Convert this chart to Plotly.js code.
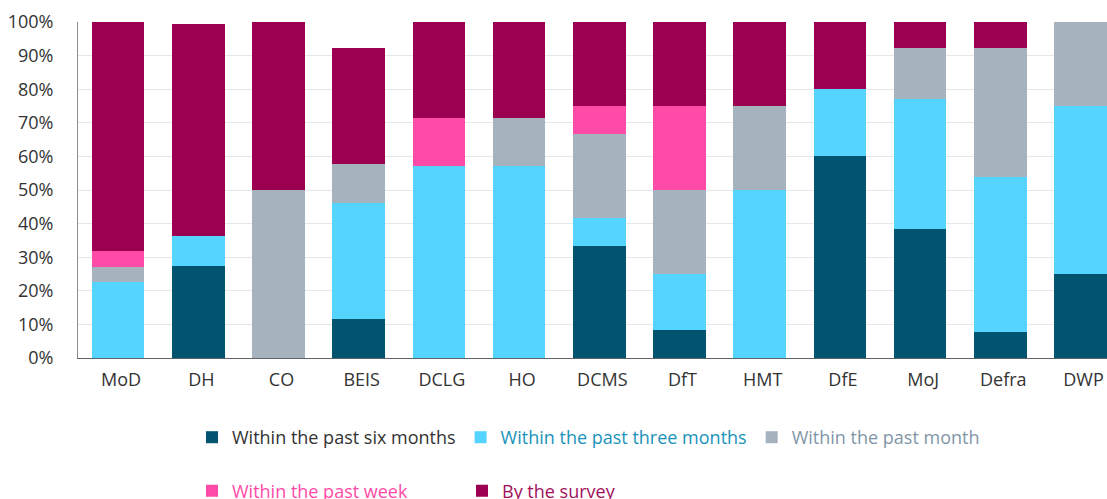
<!DOCTYPE html>
<html>
<head>
<meta charset="utf-8">
<script src="https://cdn.plot.ly/plotly-3.0.1.min.js"></script>
<style>
  html, body { margin: 0; padding: 0; background: #fff; }
  #chart { width: 1107px; height: 499px; }
</style>
</head>
<body>
<div id="chart"></div>
<script>
var categories = ['MoD', 'DH', 'CO', 'BEIS', 'DCLG', 'HO', 'DCMS', 'DfT', 'HMT', 'DfE', 'MoJ', 'Defra', 'DWP'];
var sixMonths   = [0, 27.3, 0, 11.5, 0, 0, 33.3, 8.3, 0, 60, 38.5, 7.7, 25];
var threeMonths = [22.7, 9.1, 0, 34.6, 57.1, 57.1, 8.3, 16.7, 50, 20, 38.5, 46.2, 50];
var pastMonth   = [4.5, 0, 50, 11.5, 0, 14.3, 25, 25, 25, 0, 15.4, 38.5, 25];
var pastWeek    = [4.5, 0, 0, 0, 14.3, 0, 8.3, 25, 0, 0, 0, 0, 0];
var bySurvey    = [68.2, 63.1, 50, 34.6, 28.6, 28.6, 25, 25, 25, 20, 7.7, 7.7, 0];
var yTickVals   = [0, 10, 20, 30, 40, 50, 60, 70, 80, 90, 100];
var yTickText   = ['0%', '10%', '20%', '30%', '40%', '50%', '60%', '70%', '80%', '90%', '100%'];

var seriesNames  = ['Within the past six months', 'Within the past three months', 'Within the past month', 'Within the past week', 'By the survey'];
var seriesColors = ['#00546F', '#55D4FF', '#A6B3BF', '#FF4BA8', '#9C0050'];
var textColors   = ['#333333', '#1A93BA', '#8196A9', '#FF4BA8', '#A0105A'];
var seriesValues = [sixMonths, threeMonths, pastMonth, pastWeek, bySurvey];
var legendIds    = ['legend', 'legend', 'legend', 'legend2', 'legend2'];

var FONT = '"Open Sans", "Noto Sans", sans-serif';

var traces = seriesValues.map(function (vals, i) {
  return {
    type: 'bar',
    x: categories,
    y: vals,
    name: '<span style="color:' + textColors[i] + '">' + seriesNames[i] + '</span>',
    marker: { color: seriesColors[i], line: { width: 0 } },
    legend: legendIds[i],
    hoverinfo: 'x+y'
  };
});

var layout = {
  width: 1107,
  height: 499,
  barmode: 'stack',
  bargap: 0.344,
  paper_bgcolor: '#ffffff',
  plot_bgcolor: '#ffffff',
  font: { family: FONT, size: 18, color: '#333333' },
  margin: { l: 78, r: 0, t: 22, b: 141, autoexpand: false },
  xaxis: {
    type: 'category',
    range: [-0.5, 12.33],
    showline: true,
    linecolor: '#5f6368',
    linewidth: 1,
    showgrid: false,
    zeroline: false,
    ticks: '',
    ticklabelstandoff: 5,
    ticklabelshift: 3,
    tickfont: { family: FONT, size: 18, color: '#333333' }
  },
  yaxis: {
    range: [0, 100],
    tickmode: 'array',
    tickvals: yTickVals,
    ticktext: yTickText,
    showline: true,
    linecolor: '#8a8f94',
    linewidth: 1,
    showgrid: true,
    gridcolor: '#E4E8EB',
    gridwidth: 1,
    zeroline: false,
    ticks: '',
    ticklabelstandoff: 20,
    tickfont: { family: FONT, size: 18, color: '#333333' }
  },
  legend: {
    orientation: 'h',
    xref: 'container', yref: 'container',
    x: 192 / 1107, xanchor: 'left',
    y: 1 - 437.5 / 499, yanchor: 'middle',
    traceorder: 'normal',
    font: { family: FONT, size: 18, color: '#333333' },
    bgcolor: 'rgba(0,0,0,0)'
  },
  legend2: {
    orientation: 'h',
    xref: 'container', yref: 'container',
    x: 192 / 1107, xanchor: 'left',
    y: 1 - 491 / 499, yanchor: 'middle',
    traceorder: 'normal',
    entrywidth: 225,
    font: { family: FONT, size: 18, color: '#333333' },
    bgcolor: 'rgba(0,0,0,0)'
  },
  showlegend: true
};

Plotly.newPlot('chart', traces, layout, { displayModeBar: false, staticPlot: true });
</script>
</body>
</html>
